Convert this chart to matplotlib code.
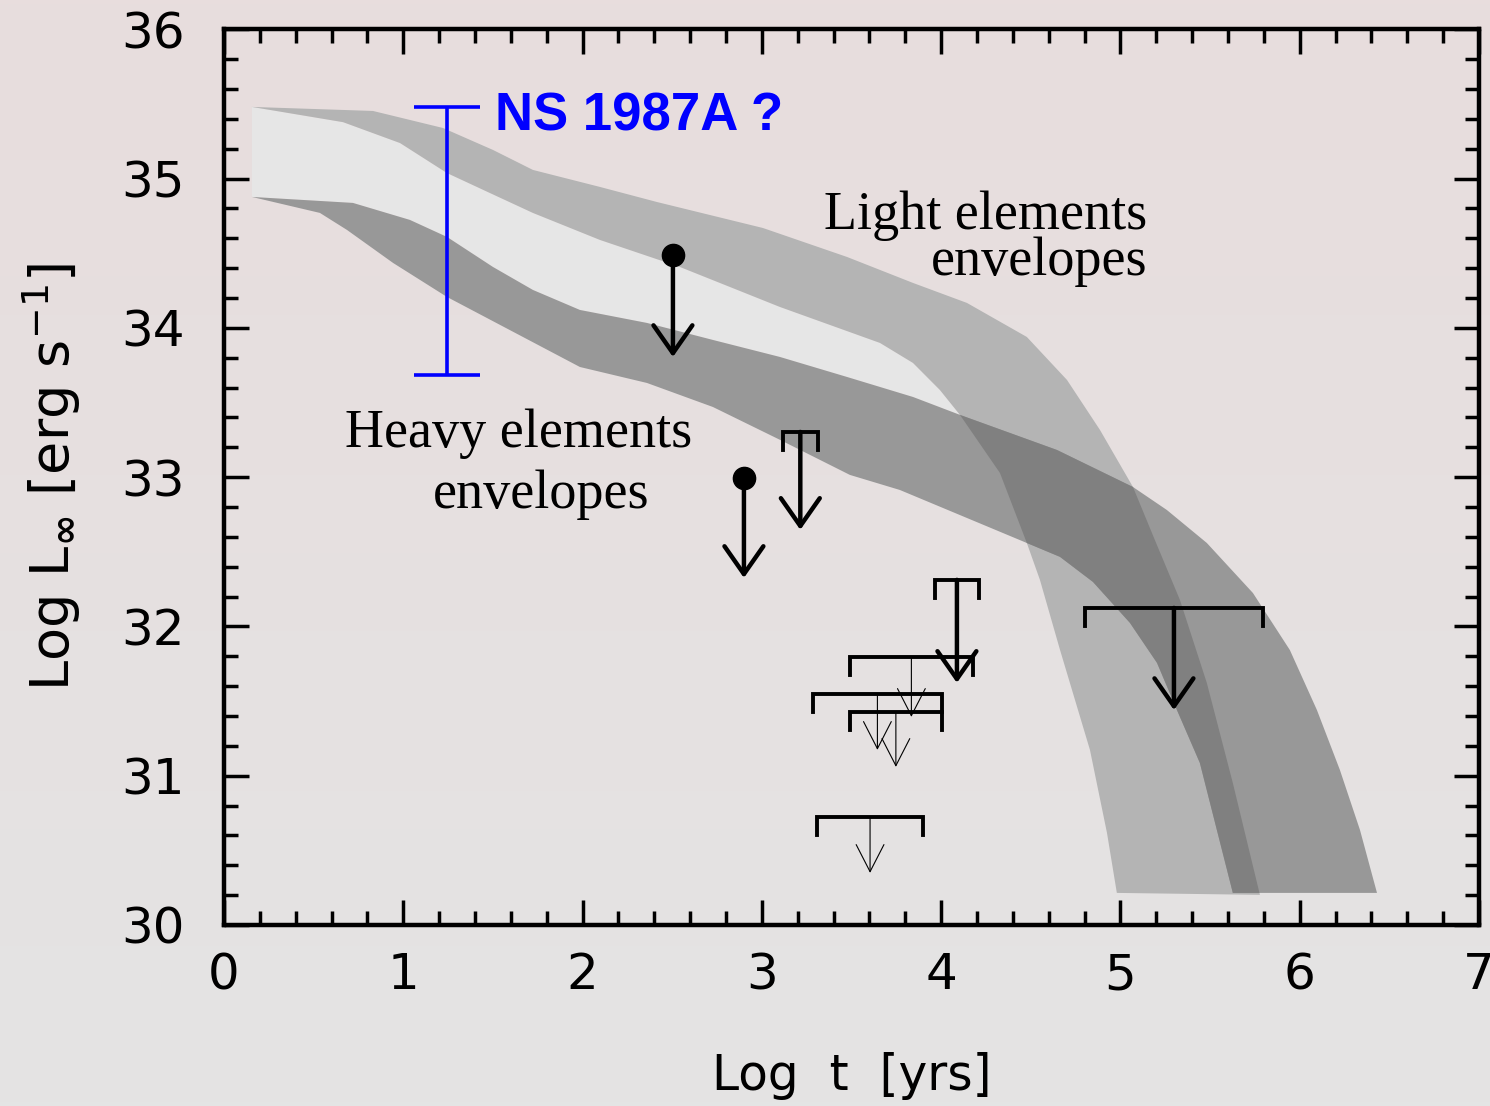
import matplotlib.pyplot as plt
import numpy as np
from matplotlib.patches import Polygon, ArrowStyle
from matplotlib.ticker import MultipleLocator

# light-element envelope band: upper and lower edge (log t, log L)
light_top_x = [0.156, 0.831, 1.221, 1.500, 1.723, 2.097, 2.415, 3.006, 3.475, 3.843,
               4.144, 4.478, 4.702, 4.886, 5.070, 5.192, 5.332, 5.482, 5.627, 5.778]
light_top_y = [35.48, 35.453, 35.339, 35.192, 35.058, 34.944, 34.843, 34.669, 34.475, 34.301,
               34.167, 33.939, 33.651, 33.316, 32.934, 32.579, 32.177, 31.621, 30.951, 30.202]
light_bot_x = [0.156, 0.664, 0.982, 1.244, 1.484, 1.723, 2.097, 2.543, 3.101, 3.659,
               3.843, 3.993, 4.105, 4.328, 4.478, 4.551, 4.663, 4.830, 4.925, 4.980]
light_bot_y = [35.48, 35.378, 35.238, 35.037, 34.903, 34.770, 34.589, 34.408, 34.140, 33.899,
               33.765, 33.584, 33.417, 33.028, 32.559, 32.312, 31.843, 31.173, 30.617, 30.215]

# heavy-element envelope band
heavy_top_x = [0.156, 0.719, 1.037, 1.244, 1.500, 1.723, 1.985, 2.359, 2.727, 3.101, 3.475,
               3.843, 4.105, 4.646, 5.070, 5.259, 5.482, 5.739, 5.945, 6.096, 6.224, 6.336, 6.431]
heavy_top_y = [34.877, 34.837, 34.723, 34.609, 34.408, 34.254, 34.120, 34.033, 33.919, 33.805, 33.671,
               33.537, 33.417, 33.182, 32.934, 32.780, 32.559, 32.224, 31.842, 31.440, 31.039, 30.637, 30.215]
heavy_bot_x = [0.156, 0.535, 0.686, 0.943, 1.244, 1.985, 2.359, 2.727, 3.101, 3.491, 3.770,
               4.478, 4.663, 4.847, 5.053, 5.204, 5.315, 5.443, 5.627]
heavy_bot_y = [34.877, 34.770, 34.656, 34.435, 34.207, 33.738, 33.631, 33.470, 33.250, 33.015, 32.914,
               32.559, 32.466, 32.298, 32.024, 31.756, 31.441, 31.086, 30.215]
cross_x = 4.105  # where the two bands start to overlap

# NS 1987A range
ns_x = 1.244
ns_lo, ns_hi = 33.685, 35.48

# upper limits with a point estimate of the age
dot_x = [2.504, 2.900]
dot_y = [34.488, 32.995]
dot_tip = [33.805, 32.325]

# upper limits with an age range (thick arrows)
thick_lo = [3.117, 3.965, 4.802]
thick_hi = [3.312, 4.211, 5.795]
thick_y = [33.303, 32.312, 32.124]
thick_tip = [32.647, 31.622, 31.440]

# upper limits with an age range (thin arrows)
thin_lo = [3.491, 3.285, 3.491, 3.308]
thin_hi = [4.177, 4.004, 4.004, 3.899]
thin_y = [31.796, 31.548, 31.427, 30.724]
thin_tip = [31.394, 31.173, 31.059, 30.349]

plt.rcParams["font.family"] = ["DejaVu Sans"]
plt.rcParams["mathtext.fontset"] = "dejavusans"

fig = plt.figure(figsize=(14.9, 11.06), dpi=100)

# soft pink-to-grey background
bg = fig.add_axes([0, 0, 1, 1], zorder=-10)
top_c = np.array([232, 221, 221]) / 255
bot_c = np.array([228, 228, 228]) / 255
t = np.linspace(0, 1, 256)[:, None, None]
bg.imshow(top_c * (1 - t) + bot_c * t, aspect="auto", extent=[0, 1, 0, 1])
bg.axis("off")

ax = fig.add_axes([224 / 1490, 181 / 1106, 1255 / 1490, 895.7 / 1106])
ax.set_facecolor("none")
ax.set_xlim(0, 7)
ax.set_ylim(30, 36)

light_poly = np.column_stack([light_top_x + light_bot_x[::-1], light_top_y + light_bot_y[::-1]])
heavy_poly = np.column_stack([heavy_top_x + heavy_bot_x[::-1], heavy_top_y + heavy_bot_y[::-1]])
gx = [x for x in light_bot_x if x <= cross_x]
gy = light_bot_y[:len(gx)]
hx = [x for x in heavy_top_x if x <= cross_x]
hy = heavy_top_y[:len(hx)]
gap_poly = np.column_stack([gx + hx[::-1], gy + hy[::-1]])

ax.add_patch(Polygon(gap_poly, closed=True, fc="#e6e6e6", ec="none", zorder=1))
light = Polygon(light_poly, closed=True, fc="#b4b4b4", ec="none", zorder=1)
ax.add_patch(light)
ax.add_patch(Polygon(heavy_poly, closed=True, fc="#989898", ec="none", zorder=1))
overlap = Polygon(heavy_poly, closed=True, fc="#808080", ec="none", zorder=2)
ax.add_patch(overlap)
overlap.set_clip_path(light)

# NS 1987A
ax.errorbar([ns_x], [(ns_lo + ns_hi) / 2], yerr=[(ns_hi - ns_lo) / 2], fmt="none",
            ecolor="#0000ff", elinewidth=2.6, capsize=24, capthick=2.6, zorder=5)
ax.text(1.51, 35.325, "NS 1987A ?", color="#0000ff", fontsize=38, fontweight="bold",
        family="Liberation Sans", ha="left", va="baseline")


def down_arrow(x, y0, y1, lw, hl, hw):
    ax.annotate("", xy=(x, y1), xytext=(x, y0),
                arrowprops=dict(arrowstyle=ArrowStyle("->", head_length=hl, head_width=hw),
                                lw=lw, color="k", shrinkA=0, shrinkB=0, mutation_scale=1),
                zorder=5)


leg = 0.12
for x, y, tip in zip(dot_x, dot_y, dot_tip):
    ax.plot([x], [y], "o", ms=16, color="k", zorder=6)
    down_arrow(x, y, tip, 3.2, 20, 14)

for lo, hi, y, tip in zip(thick_lo, thick_hi, thick_y, thick_tip):
    ax.plot([lo, lo, hi, hi], [y - leg, y, y, y - leg], color="k", lw=2.8,
            solid_joinstyle="miter", zorder=5)
    down_arrow((lo + hi) / 2, y, tip, 3.2, 20, 14)

for lo, hi, y, tip in zip(thin_lo, thin_hi, thin_y, thin_tip):
    ax.plot([lo, lo, hi, hi], [y - leg, y, y, y - leg], color="k", lw=2.8,
            solid_joinstyle="miter", zorder=5)
    down_arrow((lo + hi) / 2, y, tip, 0.8, 19.5, 10)

serif = "Liberation Serif"
ax.text(5.148, 34.66, "Light elements", fontsize=39, family=serif, ha="right", va="baseline")
ax.text(5.153, 34.354, "envelopes", fontsize=39, family=serif, ha="right", va="baseline")
ax.text(0.675, 33.20, "Heavy elements", fontsize=39, family=serif, ha="left", va="baseline")
ax.text(1.166, 32.79, "envelopes", fontsize=39, family=serif, ha="left", va="baseline")

ax.xaxis.set_major_locator(MultipleLocator(1))
ax.xaxis.set_minor_locator(MultipleLocator(0.2))
ax.yaxis.set_major_locator(MultipleLocator(1))
ax.yaxis.set_minor_locator(MultipleLocator(0.2))
ax.tick_params(which="both", direction="in", top=True, right=True, width=2.5, color="k")
ax.tick_params(which="major", length=18)
ax.tick_params(which="minor", length=10)
ax.tick_params(axis="x", which="major", labelsize=36, pad=19)
ax.tick_params(axis="y", which="major", labelsize=36, pad=28)
for s in ax.spines.values():
    s.set_linewidth(3.2)

ax.set_xlabel("Log  t  [yrs]", fontsize=35)
ax.xaxis.set_label_coords(0.5, -0.142)
ax.set_ylabel(r"Log L$_{\mathbf{\infty}}$ [erg s$^{-1}$]", fontsize=39)
ax.yaxis.set_label_coords(-0.112, 0.5)

fig.savefig("out.png", dpi=100)
